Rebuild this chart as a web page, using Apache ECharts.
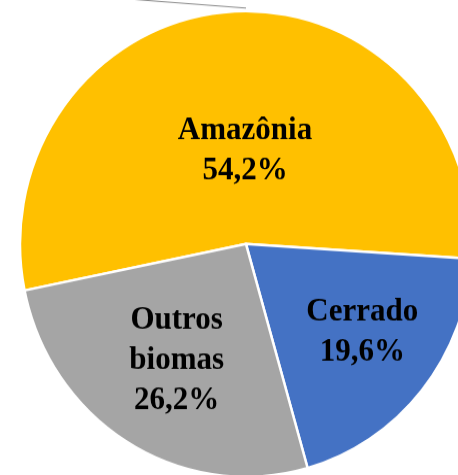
<!DOCTYPE html>
<html>
<head>
<meta charset="utf-8">
<script src="https://cdn.jsdelivr.net/npm/echarts@6/dist/echarts.min.js"></script>
<style>
html,body{margin:0;padding:0;background:#fff;overflow:hidden;}
#wrap{width:458px;height:475px;overflow:hidden;}
#chart{width:458px;height:461px;transform:scaleY(1.0304);transform-origin:0 0;}
</style>
</head>
<body>
<div id="wrap"><div id="chart"></div></div>
<script>
const categories = ["Amazônia", "Cerrado", "Outros biomas"];
const values = [54.2, 19.6, 26.2];
const labelTexts = ["Amazônia\n54,2%", "Cerrado\n19,6%", "Outros\nbiomas\n26,2%"];
const colors = ["#FFC000", "#4472C4", "#A5A5A5"];
const labelShift = [[7, 25], [26, 13], [-9, 14]];

const chart = echarts.init(document.getElementById('chart'), null, {renderer: 'canvas'});
chart.setOption({
  backgroundColor: '#ffffff',
  animation: false,
  graphic: [{
    type: 'line',
    shape: {x1: 128, y1: -1, x2: 246, y2: 7.8},
    style: {stroke: '#8c8c8c', lineWidth: 1}
  }],
  series: [{
    type: 'pie',
    center: [246, 236.8],
    radius: [0, 226],
    startAngle: 191.5,
    clockwise: true,
    avoidLabelOverlap: false,
    itemStyle: {borderColor: '#ffffff', borderWidth: 2.5},
    label: {
      show: true,
      position: 'inside',
      formatter: p => labelTexts[p.dataIndex],
      fontFamily: '"Liberation Serif", "Times New Roman", serif',
      fontWeight: 'bold',
      fontSize: 31,
      lineHeight: 39,
      color: '#000000',
      align: 'center'
    },
    labelLine: {show: false},
    labelLayout: p => ({dx: labelShift[p.dataIndex][0], dy: labelShift[p.dataIndex][1]}),
    data: categories.map((c, i) => ({name: c, value: values[i], itemStyle: {color: colors[i]}}))
  }]
});
</script>
</body>
</html>
